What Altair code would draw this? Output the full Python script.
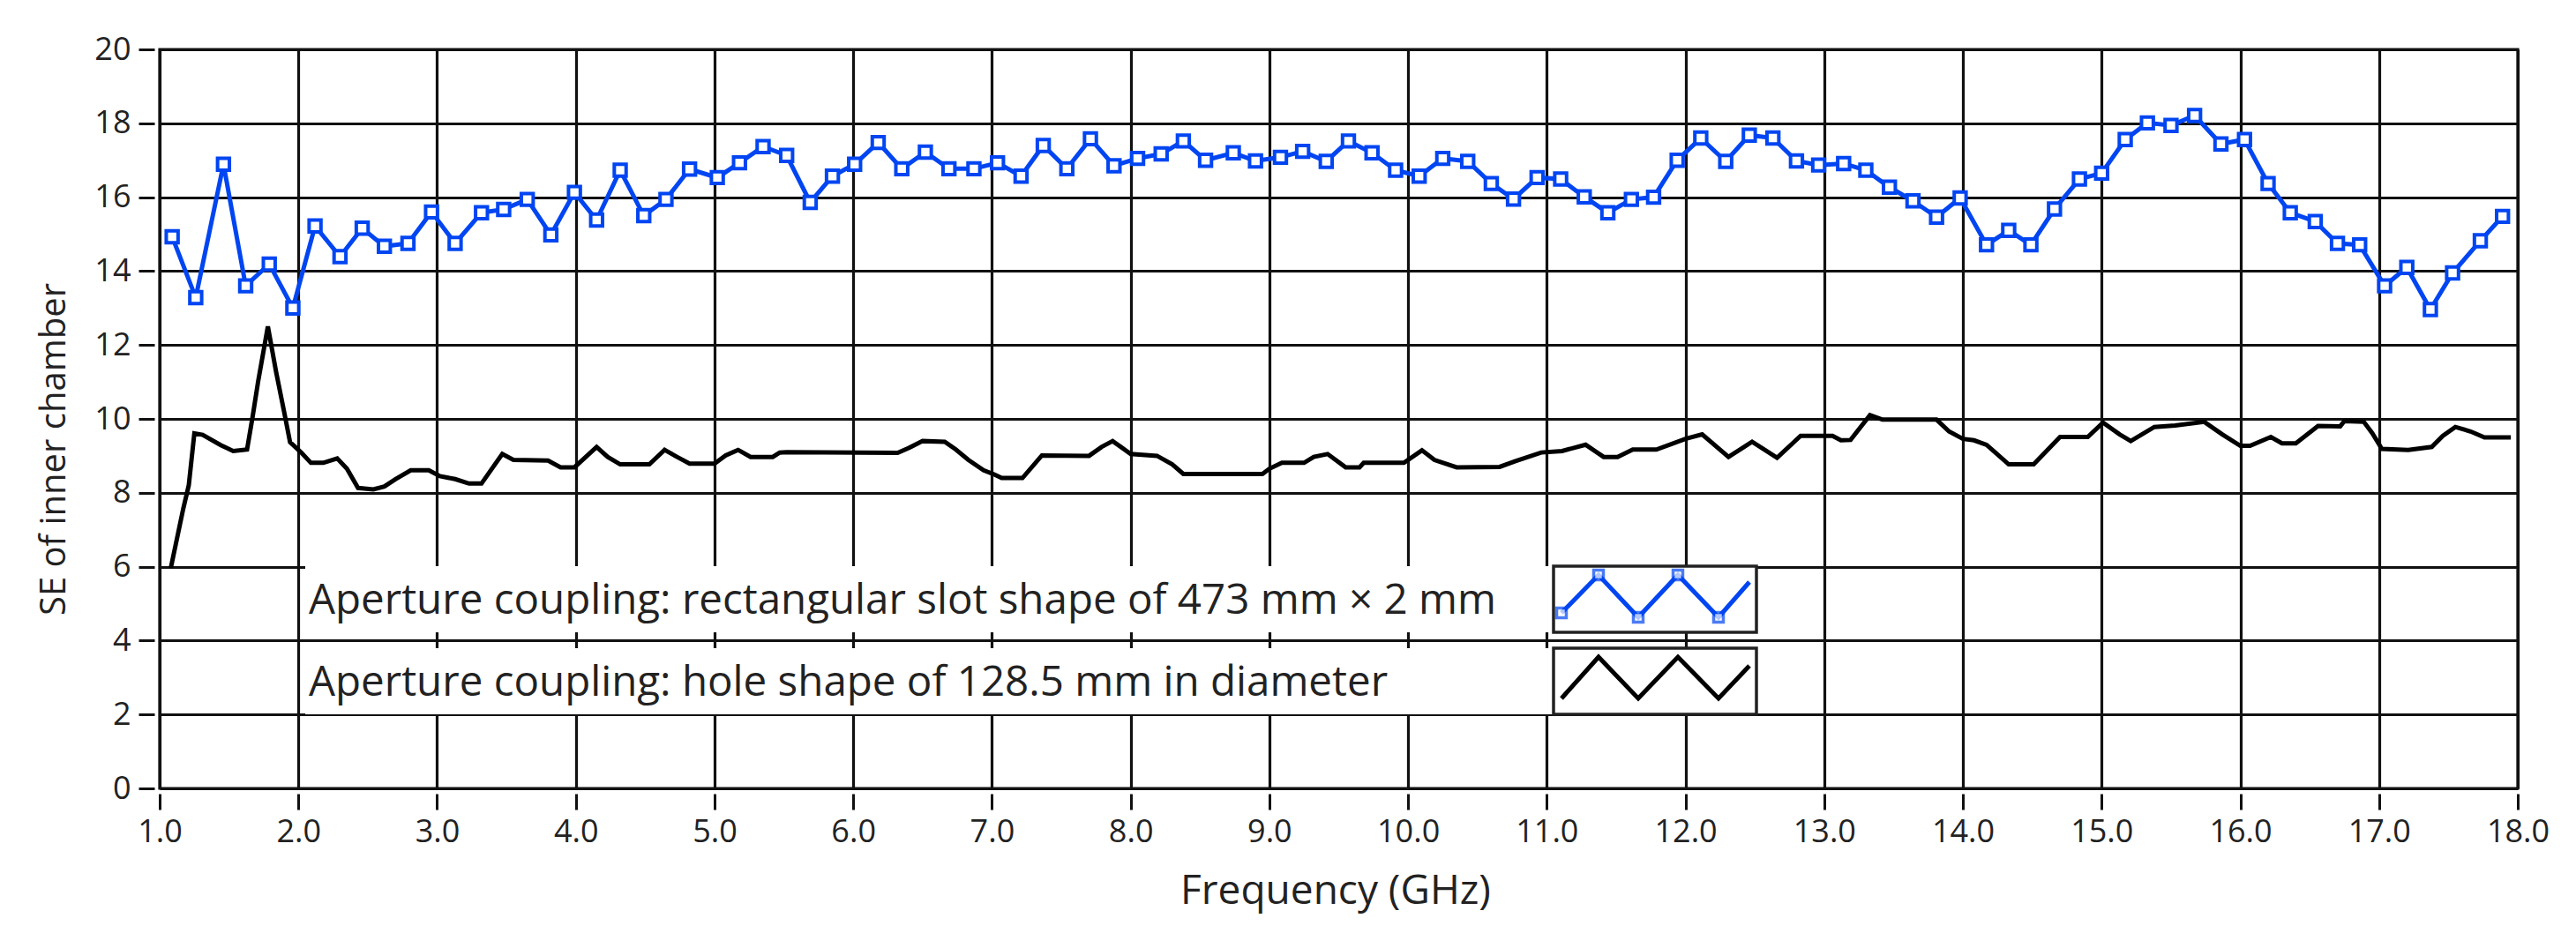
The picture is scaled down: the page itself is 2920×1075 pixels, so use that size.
import altair as alt
import pandas as pd

# ---------------- data ----------------
blue_freq = [1.09, 1.26, 1.46, 1.62, 1.79, 1.96, 2.12, 2.30, 2.46, 2.62,
             2.79, 2.96, 3.13, 3.32, 3.48, 3.65, 3.82, 3.99, 4.15, 4.32,
             4.49, 4.65, 4.82, 5.02, 5.18, 5.35, 5.52, 5.69, 5.85, 6.01,
             6.18, 6.35, 6.52, 6.69, 6.87, 7.04, 7.21, 7.37, 7.54, 7.71,
             7.88, 8.05, 8.22, 8.38, 8.54, 8.74, 8.90, 9.08, 9.24, 9.41,
             9.57, 9.74, 9.91, 10.08, 10.25, 10.43, 10.60, 10.76, 10.93, 11.10,
             11.27, 11.44, 11.61, 11.77, 11.94, 12.11, 12.29, 12.46, 12.63, 12.80,
             12.96, 13.14, 13.30, 13.47, 13.64, 13.81, 13.98, 14.17, 14.33, 14.49,
             14.66, 14.84, 15.00, 15.17, 15.33, 15.50, 15.67, 15.86, 16.03, 16.20,
             16.36, 16.54, 16.70, 16.86, 17.04, 17.20, 17.37, 17.53, 17.73, 17.89]
blue_se = [14.93, 13.28, 16.89, 13.60, 14.19, 13.00, 15.22, 14.39, 15.16, 14.67,
           14.75, 15.60, 14.75, 15.58, 15.67, 15.94, 14.98, 16.13, 15.38, 16.73,
           15.50, 15.94, 16.76, 16.53, 16.93, 17.37, 17.13, 15.86, 16.57, 16.89,
           17.48, 16.77, 17.22, 16.77, 16.77, 16.93, 16.57, 17.40, 16.77, 17.58,
           16.85, 17.05, 17.17, 17.52, 17.00, 17.20, 16.98, 17.08, 17.24, 16.97,
           17.52, 17.20, 16.73, 16.57, 17.05, 16.97, 16.37, 15.95, 16.53, 16.49,
           16.01, 15.58, 15.94, 16.00, 17.00, 17.60, 16.97, 17.68, 17.60, 16.98,
           16.87, 16.91, 16.73, 16.27, 15.90, 15.46, 15.98, 14.71, 15.10, 14.71,
           15.68, 16.49, 16.65, 17.56, 18.01, 17.94, 18.21, 17.44, 17.56, 16.37,
           15.58, 15.34, 14.75, 14.71, 13.60, 14.10, 12.96, 13.95, 14.82, 15.48]

black_freq = [1.08, 1.17, 1.21, 1.25, 1.31, 1.44, 1.53, 1.63, 1.67, 1.71,
              1.78, 1.84, 1.90, 1.94, 2.02, 2.09, 2.18, 2.28, 2.35, 2.43,
              2.54, 2.62, 2.70, 2.81, 2.94, 3.02, 3.13, 3.23, 3.32, 3.38,
              3.47, 3.55, 3.80, 3.89, 3.99, 4.06, 4.15, 4.23, 4.32, 4.53,
              4.64, 4.73, 4.82, 5.00, 5.08, 5.17, 5.26, 5.42, 5.47, 5.52,
              6.32, 6.40, 6.50, 6.66, 6.74, 6.83, 6.94, 7.02, 7.07, 7.22,
              7.36, 7.70, 7.79, 7.87, 8.00, 8.19, 8.30, 8.38, 8.95, 9.00,
              9.09, 9.25, 9.32, 9.42, 9.55, 9.65, 9.68, 9.97, 10.10, 10.19,
              10.35, 10.66, 10.77, 10.96, 11.11, 11.28, 11.41, 11.51, 11.62, 11.79,
              12.00, 12.12, 12.31, 12.48, 12.66, 12.83, 13.06, 13.12, 13.19, 13.33,
              13.42, 13.81, 13.90, 14.00, 14.08, 14.17, 14.33, 14.51, 14.70, 14.90,
              15.01, 15.13, 15.21, 15.38, 15.53, 15.74, 15.87, 16.00, 16.07, 16.22,
              16.30, 16.40, 16.56, 16.72, 16.75, 16.89, 16.95, 17.02, 17.21, 17.38,
              17.46, 17.55, 17.66, 17.76, 17.95]
black_se = [5.96, 7.57, 8.21, 9.61, 9.57, 9.29, 9.13, 9.17, 10.06, 11.02,
            12.50, 11.26, 10.14, 9.37, 9.09, 8.81, 8.81, 8.93, 8.65, 8.13,
            8.09, 8.17, 8.37, 8.61, 8.61, 8.45, 8.37, 8.25, 8.25, 8.57,
            9.05, 8.89, 8.87, 8.69, 8.69, 8.93, 9.24, 8.97, 8.77, 8.77,
            9.16, 8.97, 8.79, 8.79, 9.01, 9.16, 8.97, 8.97, 9.09, 9.10,
            9.08, 9.21, 9.40, 9.38, 9.17, 8.89, 8.61, 8.49, 8.40, 8.40,
            9.01, 9.00, 9.24, 9.40, 9.05, 9.00, 8.77, 8.51, 8.51, 8.65,
            8.81, 8.81, 8.97, 9.05, 8.69, 8.69, 8.81, 8.81, 9.15, 8.89,
            8.69, 8.70, 8.85, 9.09, 9.13, 9.30, 8.97, 8.97, 9.17, 9.17,
            9.46, 9.58, 8.97, 9.38, 8.95, 9.54, 9.54, 9.42, 9.43, 10.10,
            9.98, 9.98, 9.66, 9.46, 9.42, 9.30, 8.77, 8.77, 9.51, 9.51,
            9.90, 9.58, 9.40, 9.78, 9.82, 9.92, 9.58, 9.27, 9.27, 9.51,
            9.34, 9.34, 9.81, 9.80, 9.94, 9.92, 9.62, 9.19, 9.16, 9.24,
            9.54, 9.78, 9.66, 9.50, 9.50]

x_ticks = [float(v) for v in range(1, 19)]
y_ticks = [0, 2, 4, 6, 8, 10, 12, 14, 16, 18, 20]
legend_labels = ["Aperture coupling: rectangular slot shape of 473 mm \u00d7 2 mm",
                 "Aperture coupling: hole shape of 128.5 mm in diameter"]

# ---------------- style ----------------
W, H = 2673, 838
X_MIN, X_MAX, Y_MIN, Y_MAX = 1.0, 18.0, 0.0, 20.0
BLUE = "#0045f2"
INK = "#111111"
TICK_FONT = "Open Sans"
TEXT_FONT = "Open Sans"

xs = alt.Scale(domain=[X_MIN, X_MAX], nice=False, zero=False)
ys = alt.Scale(domain=[Y_MIN, Y_MAX], nice=False, zero=False)

common_axis = dict(grid=True, gridColor=INK, gridWidth=3.2, gridOpacity=1,
                   domain=False, ticks=True, tickColor=INK, tickWidth=3,
                   tickSize=18, offset=6, labelFont=TICK_FONT, labelFontSize=36,
                   labelColor="#222222", titleFont=TEXT_FONT, titleColor="#222222",
                   titleFontWeight="normal")

x_axis = alt.Axis(values=x_ticks, format=".1f", title="Frequency (GHz)",
                  labelPadding=8, titleFontSize=46, titleX=W / 2 - 4, titleY=110,
                  titleAlign="center", titleBaseline="middle", labelFlush=False,
                  **common_axis)
y_axis = alt.Axis(values=y_ticks, format="d", title="SE of inner chamber",
                  labelPadding=9, titleFontSize=40, titleX=-114, titleY=453,
                  titleAngle=-90, titleAlign="center", titleBaseline="middle",
                  labelFlush=False, **common_axis)

X = lambda f: alt.X(f"{f}:Q", scale=xs, axis=x_axis)
Y = lambda f: alt.Y(f"{f}:Q", scale=ys, axis=y_axis)

blue_df = pd.DataFrame({"f": blue_freq, "se": blue_se})
black_df = pd.DataFrame({"f": black_freq, "se": black_se})

black_line = alt.Chart(black_df).mark_line(color="#000000", strokeWidth=5,
                                           strokeJoin="miter").encode(x=X("f"), y=Y("se"))
blue_line = alt.Chart(blue_df).mark_line(color=BLUE, strokeWidth=5).encode(x=X("f"), y=Y("se"))
blue_pts = alt.Chart(blue_df).mark_square(size=180, filled=True, fill="white",
                                          stroke=BLUE, strokeWidth=4,
                                          opacity=1).encode(x=X("f"), y=Y("se"))

# ---------------- legend (plot legend drawn inside the plot) ----------------
row_top = [586, 679]
row_bot = [661, 754]
row_left, row_right, box_left = 165, 1810, 1580
text_y = [626, 719]

def px_to_f(px):
    return X_MIN + px / W * (X_MAX - X_MIN)

def py_to_se(py):
    return Y_MAX - py / H * (Y_MAX - Y_MIN)

layers = [black_line, blue_line, blue_pts]
for i in range(2):
    layers.append(alt.Chart(pd.DataFrame({"k": [0]})).mark_rect(color="white").encode(
        x=alt.value(row_left), x2=alt.value(row_right),
        y=alt.value(row_top[i]), y2=alt.value(row_bot[i])))
    layers.append(alt.Chart(pd.DataFrame({"k": [0]})).mark_rect(
        fill="white", stroke="#222222", strokeWidth=3.5).encode(
        x=alt.value(box_left), x2=alt.value(row_right),
        y=alt.value(row_top[i]), y2=alt.value(row_bot[i])))
    layers.append(alt.Chart(pd.DataFrame({"t": [legend_labels[i]]})).mark_text(
        align="left", baseline="middle", font=TEXT_FONT, fontSize=47.5,
        color="#222222").encode(text="t:N", x=alt.value(169), y=alt.value(text_y[i])))

zig_px = [1589, 1631, 1676, 1721, 1767, 1802]
zig_blue_py = [639, 596, 644, 596, 644, 604]
zig_black_py = [736, 689, 736, 689, 736, 699]
zb = pd.DataFrame({"f": [px_to_f(p) for p in zig_px], "se": [py_to_se(p) for p in zig_blue_py]})
zk = pd.DataFrame({"f": [px_to_f(p) for p in zig_px], "se": [py_to_se(p) for p in zig_black_py]})
layers.append(alt.Chart(zb).mark_line(color=BLUE, strokeWidth=5).encode(x=X("f"), y=Y("se")))
layers.append(alt.Chart(zb.iloc[0:5]).mark_square(size=120, filled=True, fill="white",
                                                  stroke=BLUE, strokeWidth=3.5).encode(x=X("f"), y=Y("se")))
layers.append(alt.Chart(zk).mark_line(color="#000000", strokeWidth=5).encode(x=X("f"), y=Y("se")))

chart = alt.layer(*layers).properties(
    width=W, height=H,
    autosize=alt.AutoSizeParams(type="none"),
    padding={"left": 173, "top": 48, "right": 50, "bottom": 160},
    background="white",
).configure_view(stroke=INK, strokeWidth=3.2)

chart.save("out.html", embed_options={"renderer": "svg", "actions": False})
